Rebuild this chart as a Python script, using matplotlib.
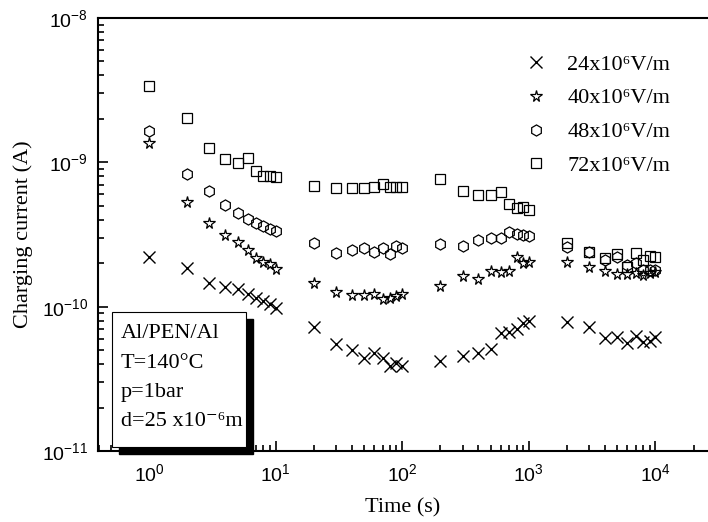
import numpy as np
import matplotlib
matplotlib.use("Agg")
import matplotlib.pyplot as plt
from matplotlib.patches import Rectangle
from matplotlib.ticker import LogLocator, FuncFormatter, NullFormatter

plt.rcParams['font.family'] = ['Liberation Serif', 'DejaVu Serif']
plt.rcParams['mathtext.fontset'] = 'custom'
plt.rcParams['mathtext.rm'] = 'Liberation Sans'
plt.rcParams['mathtext.it'] = 'Liberation Sans:italic'
plt.rcParams['mathtext.bf'] = 'Liberation Sans:bold'

# time points (s)
time_s = [1, 2, 3, 4, 5, 6, 7, 8, 9, 10,
          20, 30, 40, 50, 60, 70, 80, 90, 100,
          200, 300, 400, 500, 600, 700, 800, 900, 1000,
          2000, 3000, 4000, 5000, 6000, 7000, 8000, 9000, 10000]

# charging current (A) for each field
i_24 = [2.2e-10, 1.85e-10, 1.46e-10, 1.37e-10, 1.32e-10, 1.22e-10, 1.15e-10, 1.1e-10, 1.04e-10, 9.8e-11,
        7.2e-11, 5.5e-11, 5.0e-11, 4.4e-11, 4.8e-11, 4.4e-11, 3.9e-11, 4.1e-11, 3.9e-11,
        4.2e-11, 4.55e-11, 4.8e-11, 5.1e-11, 6.6e-11, 6.7e-11, 7.0e-11, 7.7e-11, 7.9e-11,
        7.8e-11, 7.2e-11, 6.05e-11, 6.2e-11, 5.6e-11, 6.3e-11, 5.7e-11, 5.8e-11, 6.2e-11]
i_40 = [1.36e-9, 5.3e-10, 3.8e-10, 3.13e-10, 2.8e-10, 2.46e-10, 2.18e-10, 2.04e-10, 1.97e-10, 1.82e-10,
        1.46e-10, 1.26e-10, 1.2e-10, 1.2e-10, 1.22e-10, 1.13e-10, 1.15e-10, 1.19e-10, 1.22e-10,
        1.39e-10, 1.63e-10, 1.55e-10, 1.77e-10, 1.74e-10, 1.78e-10, 2.2e-10, 2.0e-10, 2.04e-10,
        2.04e-10, 1.88e-10, 1.77e-10, 1.68e-10, 1.68e-10, 1.7e-10, 1.65e-10, 1.7e-10, 1.73e-10]
i_48 = [1.65e-9, 8.3e-10, 6.3e-10, 5.1e-10, 4.45e-10, 4.07e-10, 3.8e-10, 3.6e-10, 3.45e-10, 3.35e-10,
        2.76e-10, 2.35e-10, 2.46e-10, 2.54e-10, 2.4e-10, 2.54e-10, 2.31e-10, 2.62e-10, 2.54e-10,
        2.72e-10, 2.63e-10, 2.88e-10, 2.99e-10, 2.99e-10, 3.29e-10, 3.2e-10, 3.13e-10, 3.09e-10,
        2.6e-10, 2.4e-10, 2.1e-10, 2.2e-10, 1.95e-10, 2.0e-10, 1.8e-10, 1.8e-10, 1.8e-10]
i_72 = [3.38e-9, 2.03e-9, 1.26e-9, 1.05e-9, 9.9e-10, 1.07e-9, 8.7e-10, 8.0e-10, 8.0e-10, 7.9e-10,
        6.85e-10, 6.6e-10, 6.6e-10, 6.6e-10, 6.7e-10, 7.08e-10, 6.8e-10, 6.8e-10, 6.8e-10,
        7.66e-10, 6.3e-10, 5.9e-10, 5.9e-10, 6.2e-10, 5.14e-10, 4.8e-10, 4.9e-10, 4.67e-10,
        2.76e-10, 2.4e-10, 2.18e-10, 2.3e-10, 1.88e-10, 2.35e-10, 2.1e-10, 2.25e-10, 2.2e-10]

labels = ['24x10⁶V/m', '40x10⁶V/m', '48x10⁶V/m', '72x10⁶V/m']
info_lines = ['Al/PEN/Al', 'T=140°C', 'p=1bar', 'd=25 x10⁻⁶m']

fig = plt.figure(figsize=(7.08, 5.22), dpi=100)
ax = fig.add_axes([98 / 708, 1 - 451 / 522, 610 / 708, 433 / 522])

ax.plot(time_s, i_24, ls='none', marker='x', ms=8, mew=1.0, color='black', label=labels[0])
ax.plot(time_s, i_40, ls='none', marker='*', ms=8.5, mew=0.9, mfc='none', mec='black', label=labels[1])
ax.plot(time_s, i_48, ls='none', marker='h', ms=8, mew=0.9, mfc='none', mec='black', label=labels[2])
ax.plot(time_s, i_72, ls='none', marker='s', ms=6.5, mew=0.9, mfc='none', mec='black', label=labels[3])

ax.set_xscale('log')
ax.set_yscale('log')
ax.set_xlim(0.395, 2.6e4)
ax.set_ylim(1e-11, 1e-8)

ax.spines['right'].set_visible(False)
for s in ['left', 'top', 'bottom']:
    ax.spines[s].set_linewidth(1.5)

def pow10(v, pos):
    return r'$\mathrm{10^{%d}}$' % int(round(np.log10(v)))

ax.xaxis.set_major_formatter(FuncFormatter(pow10))
ax.yaxis.set_major_formatter(FuncFormatter(pow10))
ax.yaxis.set_minor_locator(LogLocator(base=10, subs=np.arange(2, 10)))
ax.xaxis.set_minor_locator(LogLocator(base=10, subs=np.arange(2, 10)))
ax.xaxis.set_minor_formatter(NullFormatter())
ax.yaxis.set_minor_formatter(NullFormatter())
ax.tick_params(which='both', direction='in', top=False, right=False, width=1.2)
ax.tick_params(which='major', length=7, labelsize=14)
ax.tick_params(which='minor', length=4)
ax.tick_params(axis='x', pad=9)
ax.tick_params(axis='y', pad=7)

ax.set_xlabel('Time (s)', fontsize=16)
ax.set_ylabel('Charging current (A)', fontsize=16)
ax.xaxis.set_label_coords(0.5, -0.108)
ax.yaxis.set_label_coords(-0.107, 0.5)

leg = ax.legend(loc='upper left', bbox_to_anchor=(525 / 708, 1 - 54 / 522), bbox_transform=fig.transFigure,
                frameon=False, fontsize=16, handlelength=1.0, handletextpad=0.9,
                borderpad=0, labelspacing=0.6, borderaxespad=0)

# info box with drop shadow
shadow = Rectangle((119 / 708, 1 - 454 / 522), 134 / 708, 135 / 522, transform=fig.transFigure,
                   facecolor='black', edgecolor='black', zorder=5)
box = Rectangle((112 / 708, 1 - 447 / 522), 134 / 708, 135 / 522, transform=fig.transFigure,
                facecolor='white', edgecolor='black', lw=0.8, zorder=6)
fig.patches.extend([shadow, box])
line_y = [334, 363, 392, 421]
for txt, yy in zip(info_lines, line_y):
    fig.text(121 / 708, 1 - yy / 522, txt, fontsize=16, va='center', ha='left', zorder=7)

fig.savefig('out.png', dpi=100)
